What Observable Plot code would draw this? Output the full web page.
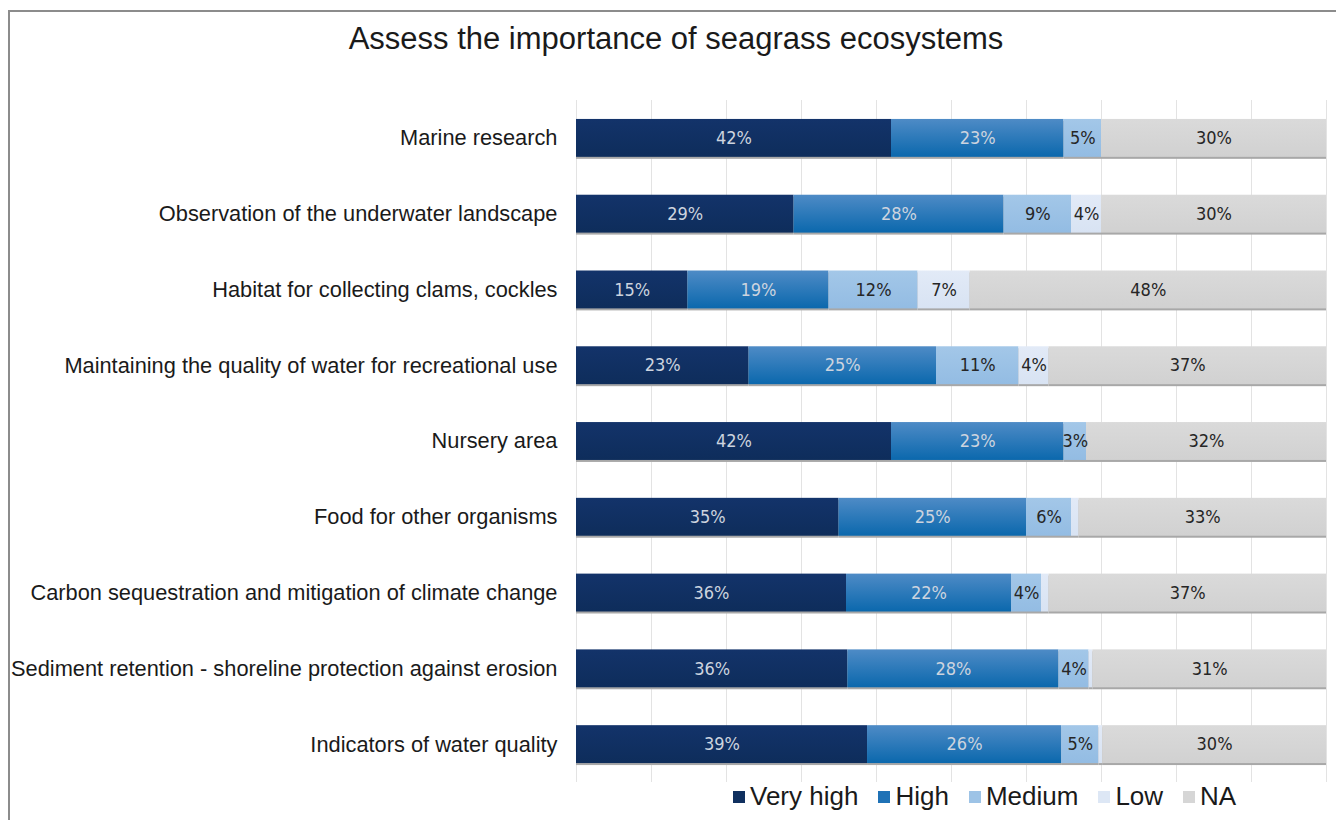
<!DOCTYPE html>
<html>
<head>
<meta charset="utf-8">
<script src="https://cdn.jsdelivr.net/npm/d3@7"></script>
<script src="https://cdn.jsdelivr.net/npm/@observablehq/plot@0.6"></script>
<style>
  html, body { margin: 0; padding: 0; background: #fff; overflow: hidden; }
  #frame { position: absolute; left: 8px; top: 10px; width: 1400px; height: 900px; border-top: 2px solid #8c8c8c; border-left: 2px solid #8c8c8c; pointer-events: none; }
  #title { height: 90px; box-sizing: border-box; padding-top: 22px; padding-left: 16px; text-align: center; font-family: "Liberation Sans", Arial, sans-serif; font-size: 31px; line-height: 34px; color: #1a1a1a; }
  #legend { display: flex; gap: 20px; align-items: center; margin-left: 733px; margin-top: -1px; font-family: "Liberation Sans", Arial, sans-serif; font-size: 26px; color: #1a1a1a; }
  #legend .item { display: flex; align-items: center; gap: 5px; }
  #legend .sw { width: 12px; height: 12px; display: inline-block; }
</style>
</head>
<body>
<div id="frame"></div>
<div id="title">Assess the importance of seagrass ecosystems</div>
<div id="chart"></div>
<div id="legend"></div>
<script>
const categories = [
  "Marine research",
  "Observation of the underwater landscape",
  "Habitat for collecting clams, cockles",
  "Maintaining the quality of water for recreational use",
  "Nursery area",
  "Food for other organisms",
  "Carbon sequestration and mitigation of climate change",
  "Sediment retention - shoreline protection against erosion",
  "Indicators of water quality"
];
const levels = ["Very high", "High", "Medium", "Low", "NA"];
const veryHigh = [42, 29, 15, 23, 42, 35, 36, 36, 39];
const high     = [23, 28, 19, 25, 23, 25, 22, 28, 26];
const medium   = [5, 9, 12, 11, 3, 6, 4, 4, 5];
const low      = [0, 4, 7, 4, 0, 1, 1, 0.5, 0.5];
const na       = [30, 30, 48, 37, 32, 33, 37, 31, 30];
const colors   = ["#10305f", "#1f72b6", "#9dc3e6", "#dde7f5", "#d6d6d6"];
const gridTicks = [0, 0.1, 0.2, 0.3, 0.4, 0.5, 0.6, 0.7, 0.8, 0.9, 1];

const series = [veryHigh, high, medium, low, na];
const data = [];
categories.forEach((c, i) => {
  levels.forEach((l, j) => data.push({category: c, level: l, value: series[j][i]}));
});

const gradIds = levels.map((_, j) => `grad${j}`);
const lightText = new Set(["Very high", "High"]);

const stackOpts = (extra) => Plot.stackX({
  x: "value", y: "category", z: "level", offset: "normalize", ...extra
});

const chart = Plot.plot({
  width: 1336,
  height: 692,
  marginTop: 10,
  marginBottom: 0,
  marginLeft: 576,
  marginRight: 10,
  style: {background: "transparent"},
  x: {domain: [0, 1], axis: null},
  y: {domain: categories, paddingInner: 0.5, paddingOuter: 0.25, round: false, label: null},
  color: {domain: levels, range: gradIds.map(id => `url(#${id})`)},
  marks: [
    Plot.gridX(gridTicks, {stroke: "#e3e3e3", strokeOpacity: 1, strokeWidth: 1}),
    Plot.barX(data, stackOpts({fill: "#a8a8a8", dy: 2})),
    Plot.barX(data, stackOpts({fill: "level"})),
    Plot.text(data, stackOpts({
      text: d => d.value >= 2 ? `${d.value}%` : "",
      fill: d => lightText.has(d.level) ? "#cdd4df" : "#262626",
      fontFamily: "'Liberation Sans Narrow', 'DejaVu Sans Condensed', sans-serif",
      fontSize: 18
    })),
    Plot.axisY({
      tickSize: 0,
      tickPadding: 19,
      fontSize: 21.8,
      fontFamily: "'Liberation Sans', Arial, sans-serif",
      fill: "#1a1a1a",
      label: null
    })
  ]
});

// gradients matching the soft Excel-style shading
const ns = "http://www.w3.org/2000/svg";
const defs = document.createElementNS(ns, "defs");
const stops = [
  ["#13336a", "#0e2d5b"],
  ["#4e8bc6", "#0b68ad"],
  ["#a3c7e8", "#93bce3"],
  ["#e2eaf7", "#d8e3f3"],
  ["#dadada", "#d1d1d1"]
];
gradIds.forEach((id, j) => {
  const g = document.createElementNS(ns, "linearGradient");
  g.setAttribute("id", id);
  g.setAttribute("x1", "0"); g.setAttribute("y1", "0");
  g.setAttribute("x2", "0"); g.setAttribute("y2", "1");
  [["0", stops[j][0]], ["1", stops[j][1]]].forEach(([o, c]) => {
    const s = document.createElementNS(ns, "stop");
    s.setAttribute("offset", o);
    s.setAttribute("stop-color", c);
    g.appendChild(s);
  });
  defs.appendChild(g);
});
chart.insertBefore(defs, chart.firstChild);
document.getElementById("chart").appendChild(chart);

const legend = document.getElementById("legend");
levels.forEach((l, j) => {
  const item = document.createElement("span");
  item.className = "item";
  const sw = document.createElement("span");
  sw.className = "sw";
  sw.style.background = colors[j];
  item.appendChild(sw);
  item.appendChild(document.createTextNode(l));
  legend.appendChild(item);
});
</script>
</body>
</html>
